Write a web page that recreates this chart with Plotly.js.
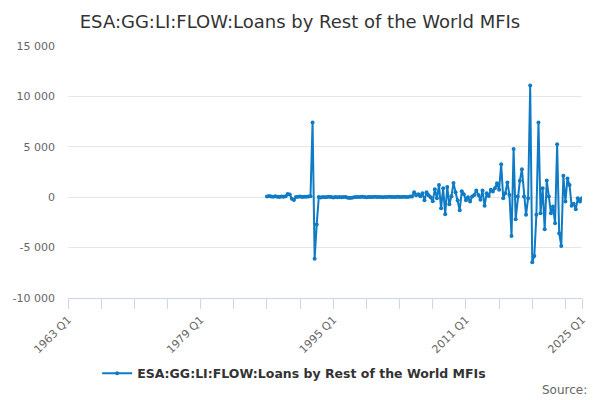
<!DOCTYPE html>
<html>
<head>
<meta charset="utf-8">
<script src="https://cdn.plot.ly/plotly-3.0.1.min.js"></script>
<style>
  body { margin: 0; background: #fff; }
  #chart { width: 600px; height: 400px; }
</style>
</head>
<body>
<div id="chart"></div>
<script>
// quarters on the axis run 1963 Q1 .. 2025 Q1
var firstYear = 1963;
var lastYear = 2025;
var quarters = [];
for (var yr = firstYear; yr <= lastYear; yr++) {
    for (var q = 1; q <= 4; q++) {
        if (yr == lastYear && q > 1) break;
        quarters.push(yr + ' Q' + q);
    }
}

// series begins 1987 Q1
var seriesStart = '1987 Q1';
var seriesName = 'ESA:GG:LI:FLOW:Loans by Rest of the World MFIs';

var loans = [
    // 1987 - 1992 Q2
    80, 120, 60, 40, 90, 50, 30, 70, 40, 100,
    320, 280, -150, -280, 20, 40, 60, 30, 50, 40, 80, 100,
    // spike 1992 Q3 - 1993 Q1
    7400, -6100, -2700,
    // 1993 Q2 - 2004 Q3
    10, -20, 30, 0, 20, 40, 10, -30, 20, 0,
    30, -10, 20, 10, -60, -80, -50, 0, 20, 30,
    10, 40, 20, 0, 30, 10, 20, 40, 30, 10,
    20, 0, 30, 20, 40, 10, 20, 30, 50, 20,
    10, 40, 30, 20, 60, 80,
    // 2004 Q4 - 2011 Q2
    500, 200, 300, 100, 400, -300, 500, 200, 0, -400,
    800, -100, 1200, -1100, 900, -1700, 1000, -700, 100, 1400,
    500, -300, -1300, 600, 300, -300, 0,
    // 2011 Q3 - 2025 Q1
    -430, 70, 230, 660, 230, -265, 660, -860, 400, 130,
    730, 560, 900, 1390, 730, 3280, -100, 400, 1460, 230,
    -3840, 4770, -2180, 70, 1620, 2780, 70, -1750, -100, 11090,
    -6450, -5830, -1750, 7410, -1590, 890, -3180, 1650, 70, -1590,
    -930, -2580, 5260, -3575, -4830, 2120, -430, 1850, 1220, -860,
    -660, -1190, -100, -430, -100
];

var labelledTicks = ['1963 Q1', '1979 Q1', '1995 Q1', '2011 Q1', '2025 Q1'];
var yTicks = [-10000, -5000, 0, 5000, 10000, 15000];

var startIdx = quarters.indexOf(seriesStart);
var xData = quarters.slice(startIdx, startIdx + loans.length);

// minor ticks every 4 years, labels every 16 years plus the last quarter
var tickvals = [];
var ticktext = [];
for (var i = 0; i < quarters.length; i += 16) {
    tickvals.push(quarters[i]);
    ticktext.push(labelledTicks.indexOf(quarters[i]) >= 0 ? quarters[i] : '');
}
tickvals.push(quarters[quarters.length - 1]);
ticktext.push(quarters[quarters.length - 1]);

// y labels with a plain hyphen and a space between thousands
var yText = yTicks.map(function(v) {
    var s = String(Math.abs(v)).replace(/\B(?=(\d{3})+(?!\d))/g, ' ');
    return (v < 0 ? '-' : '') + s;
});

var font = 'DejaVu Sans, Verdana, sans-serif';

var plot_data = [{
    x: xData,
    y: loans,
    name: seriesName,
    type: 'scatter',
    mode: 'lines+markers',
    line: { color: '#0f7bc4', width: 2 },
    marker: { color: '#0f7bc4', size: 4 },
    showlegend: true
}];

var layout = {
    width: 600,
    height: 400,
    margin: { l: 68, r: 18, t: 46, b: 102 },
    paper_bgcolor: '#ffffff',
    plot_bgcolor: '#ffffff',
    font: { family: font, color: '#666666', size: 11 },
    title: {
        text: seriesName,
        x: 0.5,
        xanchor: 'center',
        y: 0.945,
        yanchor: 'middle',
        font: { family: font, size: 18, color: '#333333' }
    },
    xaxis: {
        type: 'category',
        categoryorder: 'array',
        categoryarray: quarters,
        range: [0, quarters.length - 1],
        tickvals: tickvals,
        ticktext: ticktext,
        tickangle: -45,
        ticks: 'outside',
        ticklen: 10,
        tickcolor: '#ccd6eb',
        showline: true,
        linecolor: '#ccd6eb',
        linewidth: 1,
        showgrid: false,
        zeroline: false,
        tickfont: { family: font, size: 11, color: '#666666' }
    },
    yaxis: {
        range: [-10000, 15000],
        tickvals: yTicks,
        ticktext: yText,
        showgrid: true,
        gridcolor: '#e6e6e6',
        zeroline: false,
        showline: false,
        ticklabelstandoff: 12,
        tickfont: { family: font, size: 11, color: '#666666' }
    },
    legend: {
        orientation: 'h',
        x: 0.44,
        xanchor: 'center',
        y: -0.3,
        yanchor: 'middle',
        font: { family: font, size: 12.5, color: '#333333', weight: 'bold' }
    },
    annotations: [{
        text: 'Source:',
        xref: 'paper',
        yref: 'paper',
        x: 1.014,
        y: -0.365,
        xanchor: 'right',
        yanchor: 'middle',
        showarrow: false,
        font: { family: font, size: 12, color: '#666666' }
    }]
};

Plotly.newPlot(document.getElementById('chart'), plot_data, layout, { displayModeBar: false });
</script>
</body>
</html>
